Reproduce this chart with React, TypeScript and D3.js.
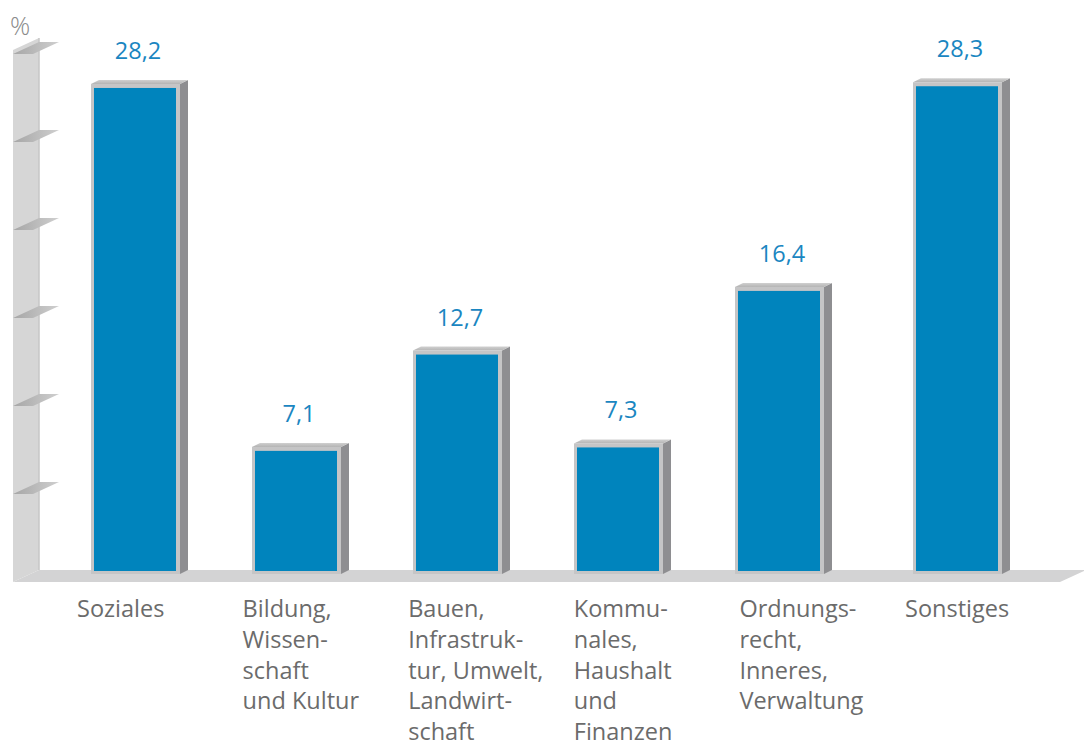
import React, { useEffect, useRef } from 'react';
import * as d3 from 'd3';

const categories: string[] = ['Soziales', 'Bildung', 'Bauen', 'Kommunales', 'Ordnungsrecht', 'Sonstiges'];
const values: number[] = [28.2, 7.1, 12.7, 7.3, 16.4, 28.3];
const labelLines: string[][] = [
  ['Soziales'],
  ['Bildung,', 'Wissen-', 'schaft', 'und Kultur'],
  ['Bauen,', 'Infrastruk-', 'tur, Umwelt,', 'Landwirt-', 'schaft'],
  ['Kommu-', 'nales,', 'Haushalt', 'und', 'Finanzen'],
  ['Ordnungs-', 'recht,', 'Inneres,', 'Verwaltung'],
  ['Sonstiges'],
];
const tickValues: number[] = [5, 10, 15, 20, 25, 30];

const App: React.FC = () => {
  const svgRef = useRef<SVGSVGElement | null>(null);

  useEffect(() => {
    const width = 1084;
    const height = 749;
    const font = '"Open Sans", "Noto Sans", sans-serif';

    const svg = d3.select(svgRef.current)
      .attr('width', width)
      .attr('height', height);
    svg.selectAll('*').remove();

    // bar values and the "wall" axis sit at slightly different depths
    const y = d3.scaleLinear().domain([0, 30]).range([569, 53]);
    const yWall = d3.scaleLinear().domain([0, 30]).range([582, 54]);

    const x = d3.scaleBand<string>()
      .domain(categories)
      .range([91, 91 + 161 * categories.length])
      .padding(0);
    const barW = 89;
    const sonstGap = 17;
    const barX = (c: string) => x(c)! + (c === 'Sonstiges' ? sonstGap : 0);

    const xLabel = d3.scalePoint<string>().domain(categories).range([77, 905]);

    const fmt = d3.formatLocale({ decimal: ',', thousands: '.', grouping: [3], currency: ['', ''] }).format('.1f');

    const defs = svg.append('defs');
    const shelfGrad = defs.append('linearGradient').attr('id', 'shelf').attr('x1', '0%').attr('x2', '100%');
    shelfGrad.append('stop').attr('offset', '0%').attr('stop-color', '#a6a6a6');
    shelfGrad.append('stop').attr('offset', '100%').attr('stop-color', '#cfcfcf');
    const topGrad = defs.append('linearGradient').attr('id', 'barTop').attr('x1', '0%').attr('x2', '0%').attr('y1', '0%').attr('y2', '100%');
    topGrad.append('stop').attr('offset', '0%').attr('stop-color', '#d0d0d0');
    topGrad.append('stop').attr('offset', '100%').attr('stop-color', '#b4b4b4');

    const dx = 26;
    const dy = -12;
    const wallL = 13;
    const wallR = wallL + dx;
    const y0 = yWall(0);

    // floor
    svg.append('polygon')
      .attr('points', [[wallL, y0], [1060, y0], [1060 + dx, y0 + dy], [wallL + dx, y0 + dy]].map(p => p.join(',')).join(' '))
      .attr('fill', '#d3d3d4');

    // wall
    const wallTop = yWall(30);
    svg.append('polygon')
      .attr('points', [[wallL, y0], [wallL, wallTop - 4], [wallR, wallTop - 16], [wallR, y0 + dy]].map(p => p.join(',')).join(' '))
      .attr('fill', '#d6d6d6');
    svg.append('line')
      .attr('x1', wallR).attr('x2', wallR)
      .attr('y1', wallTop - 16).attr('y2', y0 + dy)
      .attr('stroke', '#c6c6c6').attr('stroke-width', 1.5);

    // tick shelves
    svg.selectAll('.shelf')
      .data(tickValues)
      .enter()
      .append('polygon')
      .attr('class', 'shelf')
      .attr('points', d => {
        const yb = yWall(d);
        return [[wallL, yb], [wallL + 20, yb], [wallL + 20 + dx, yb + dy], [wallR, yb + dy]].map(p => p.join(',')).join(' ');
      })
      .attr('fill', 'url(#shelf)');

    svg.append('text')
      .attr('x', 10)
      .attr('y', 35)
      .attr('font-family', font)
      .attr('font-size', 25)
      .attr('font-weight', 300)
      .attr('fill', '#8a8a8a')
      .text('%');

    // bars
    const bdx = 8;
    const bdy = -4;
    const base = y0 - 8;
    const bars = svg.selectAll('.bar')
      .data(categories)
      .enter()
      .append('g')
      .attr('class', 'bar');

    bars.append('polygon')
      .attr('points', (c, i) => {
        const x0 = barX(c) + barW;
        const t = y(values[i]);
        return [[x0, t], [x0 + bdx, t + bdy], [x0 + bdx, base + bdy], [x0, base]].map(p => p.join(',')).join(' ');
      })
      .attr('fill', '#8e8e91');

    bars.append('polygon')
      .attr('points', (c, i) => {
        const x0 = barX(c);
        const t = y(values[i]);
        return [[x0, t], [x0 + barW, t], [x0 + barW + bdx, t + bdy], [x0 + bdx, t + bdy]].map(p => p.join(',')).join(' ');
      })
      .attr('fill', 'url(#barTop)');

    bars.append('rect')
      .attr('x', c => barX(c))
      .attr('y', (c, i) => y(values[i]))
      .attr('width', barW)
      .attr('height', (c, i) => base - y(values[i]))
      .attr('fill', '#c5c5c6');

    bars.append('rect')
      .attr('x', c => barX(c) + 3)
      .attr('y', (c, i) => y(values[i]) + 4)
      .attr('width', barW - 7)
      .attr('height', (c, i) => base - y(values[i]) - 7)
      .attr('fill', '#0084bd');

    bars.append('text')
      .attr('x', c => barX(c) + 47)
      .attr('y', (c, i) => y(values[i]) - 25)
      .attr('text-anchor', 'middle')
      .attr('font-family', font)
      .attr('font-size', 23.5)
      .attr('fill', '#1a86c1')
      .text((c, i) => fmt(values[i]));

    // category labels
    const labels = svg.selectAll('.cat')
      .data(categories)
      .enter()
      .append('text')
      .attr('class', 'cat')
      .attr('font-family', font)
      .attr('font-size', 23.5)
      .attr('fill', '#6b6b6b');

    labels.each(function (c, i) {
      d3.select(this).selectAll('tspan')
        .data(labelLines[i])
        .enter()
        .append('tspan')
        .attr('x', xLabel(c)!)
        .attr('y', (d, j) => 617 + j * 30.8)
        .text(d => d);
    });
  }, []);

  return <svg ref={svgRef} style={{ position: 'absolute', left: 0, top: 0 }}></svg>;
};

export default App;
